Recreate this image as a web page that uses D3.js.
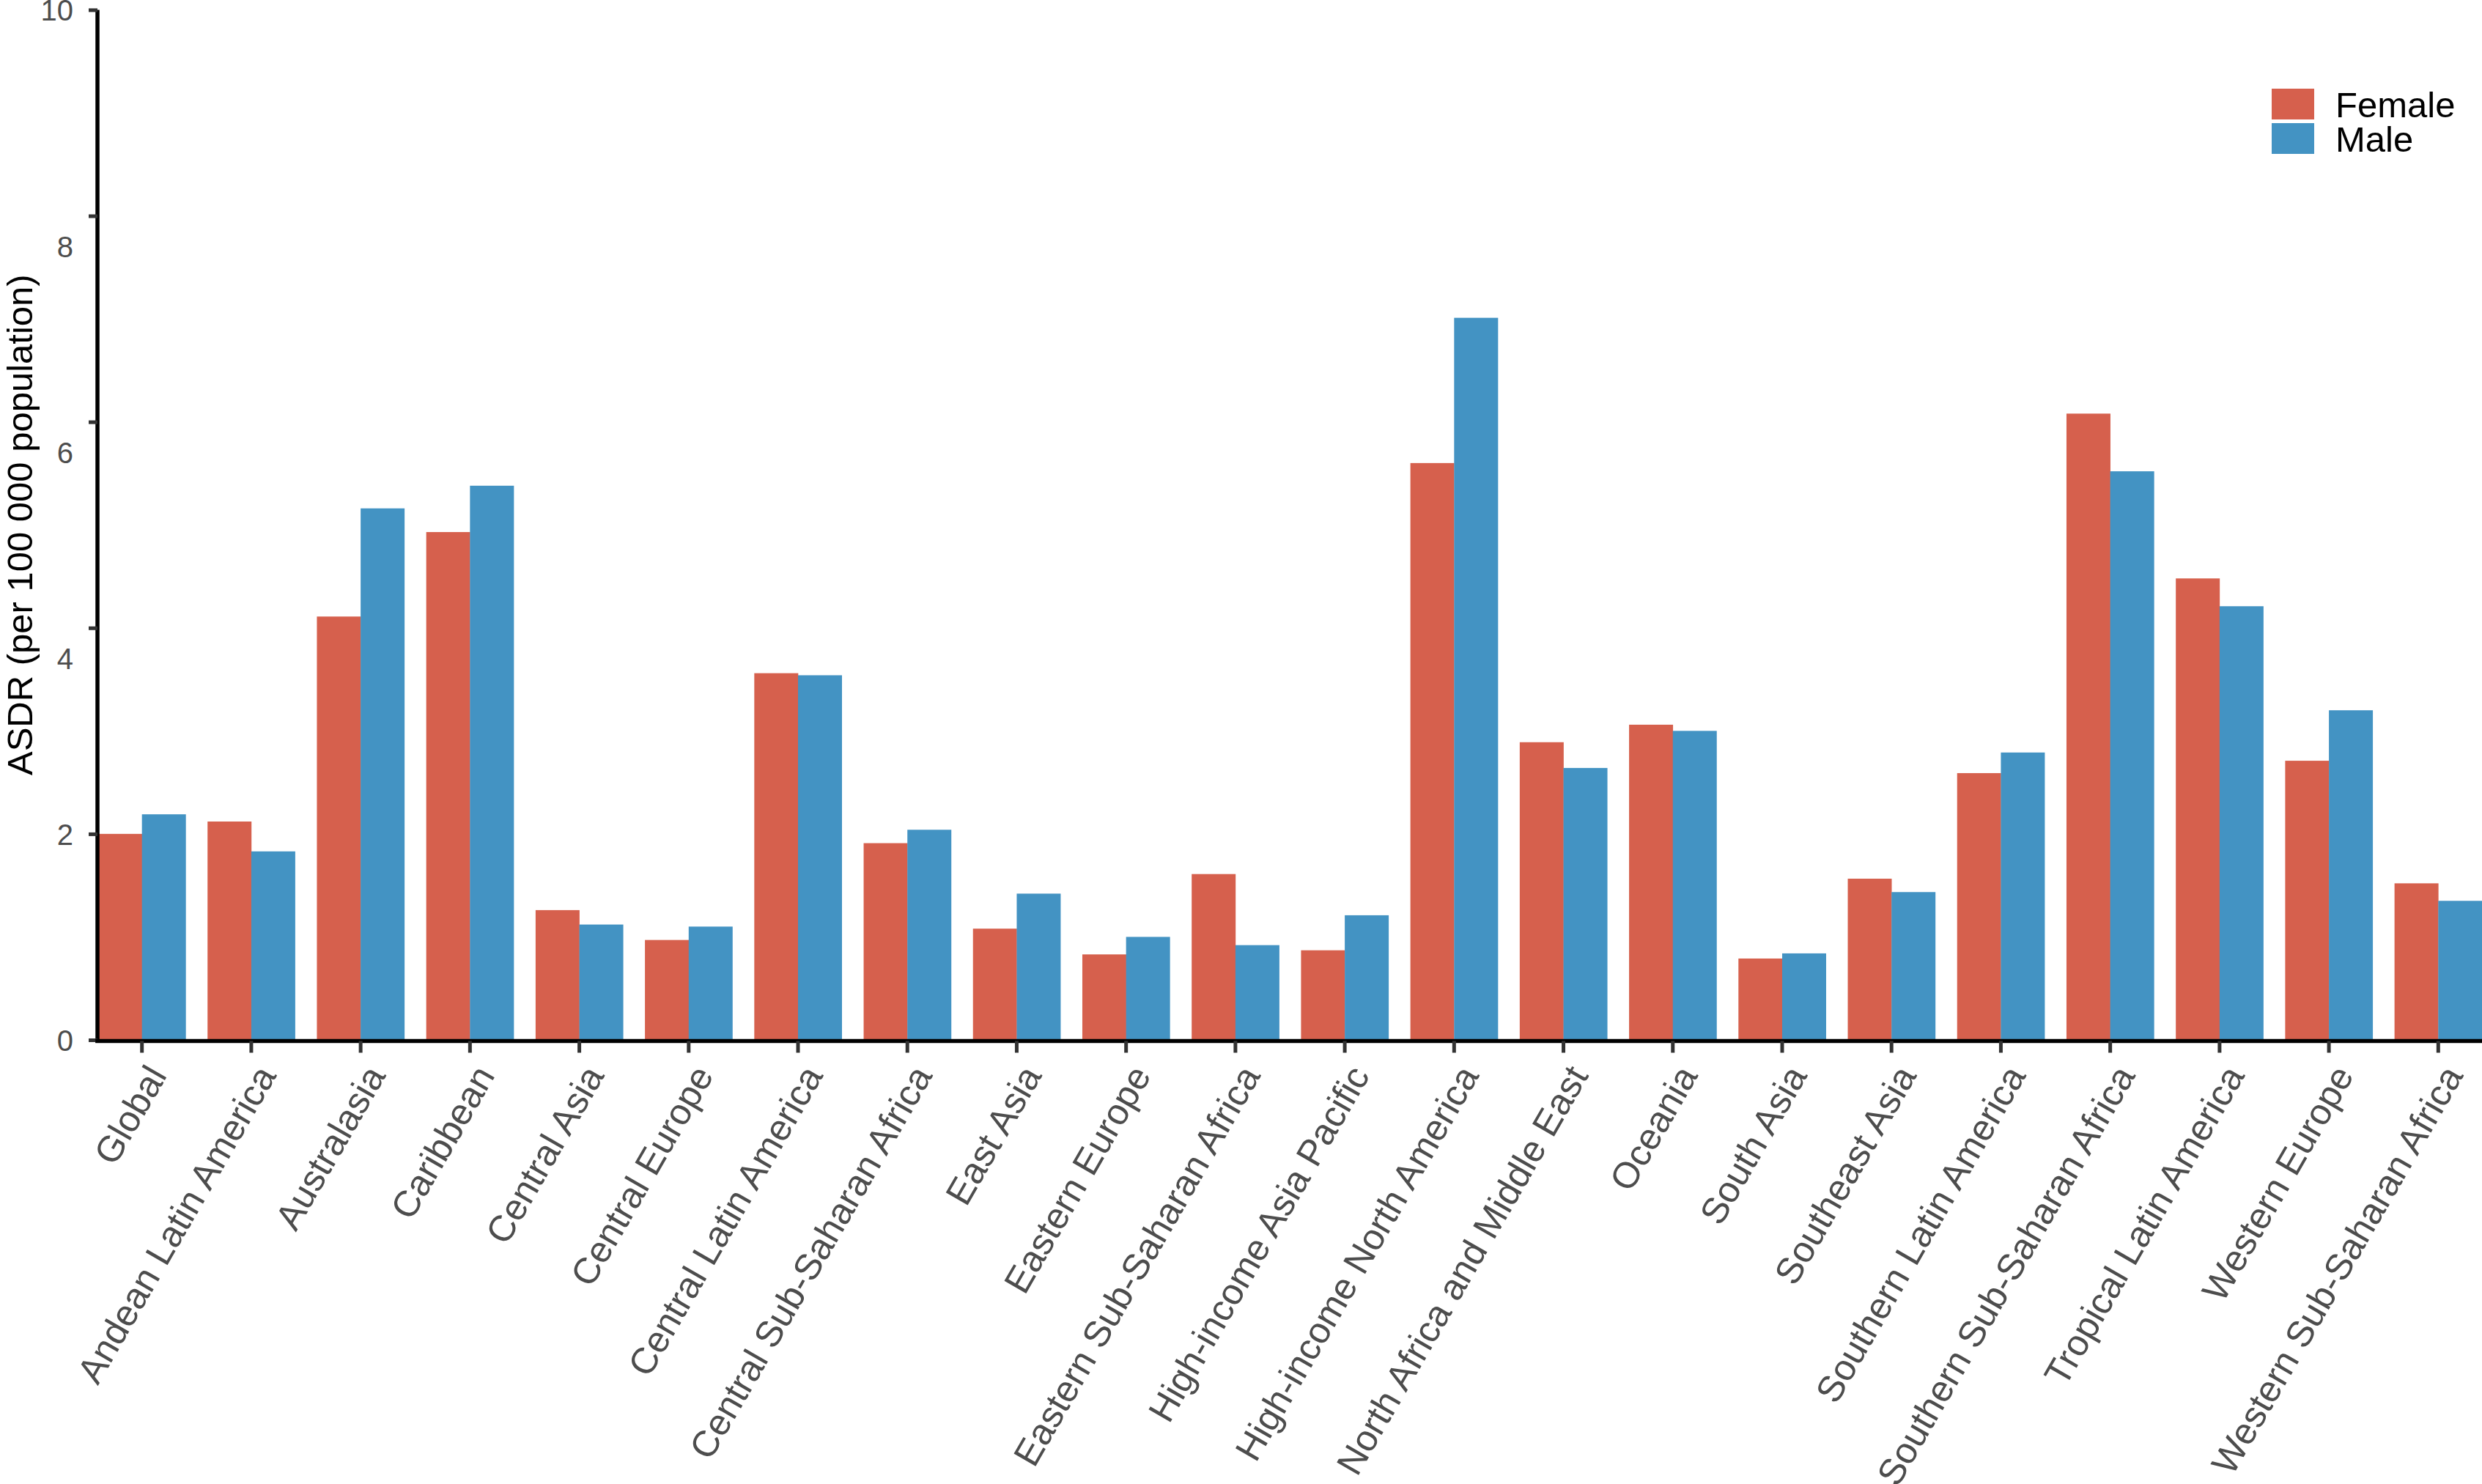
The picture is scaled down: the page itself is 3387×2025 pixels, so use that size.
<!DOCTYPE html>
<html>
<head>
<meta charset="utf-8">
<script src="https://cdn.jsdelivr.net/npm/d3@7"></script>
<style>
  html, body { margin: 0; padding: 0; background: #ffffff; }
  svg { display: block; }
  text { font-family: "Liberation Sans", Arial, Helvetica, sans-serif; }
</style>
</head>
<body>
<svg id="chart" width="3387" height="2025"></svg>
<script>
// ---- data ----
const regions = [
  "Global", "Andean Latin America", "Australasia", "Caribbean", "Central Asia",
  "Central Europe", "Central Latin America", "Central Sub-Saharan Africa", "East Asia",
  "Eastern Europe", "Eastern Sub-Saharan Africa", "High-income Asia Pacific",
  "High-income North America", "North Africa and Middle East", "Oceania", "South Asia",
  "Southeast Asia", "Southern Latin America", "Southern Sub-Saharan Africa",
  "Tropical Latin America", "Western Europe", "Western Sub-Saharan Africa"
];
const series = ["Female", "Male"];
const femaleValues = [2.00, 2.12, 4.11, 4.93, 1.26, 0.97, 3.56, 1.91, 1.08, 0.83, 1.61,
                      0.87, 5.60, 2.89, 3.06, 0.79, 1.565, 2.59, 6.08, 4.48, 2.71, 1.52];
const maleValues   = [2.19, 1.83, 5.16, 5.38, 1.12, 1.10, 3.54, 2.04, 1.42, 1.00, 0.92,
                      1.21, 7.01, 2.64, 3.00, 0.84, 1.435, 2.79, 5.52, 4.21, 3.20, 1.35];
const yTicks = [0, 2, 4, 6, 8, 10];
const yTitle = "ASDR (per 100 000 population)";
const seriesColors = ["#D6604D", "#4393C3"];

// ---- layout ----
const svg = d3.select("#chart");
const axisX = 133;        // y-axis line position
const plotRight = 3387;
const plotTop = 13.4;
const plotBottom = 1419;

const rows = regions.map((r, i) => ({ region: r, Female: femaleValues[i], Male: maleValues[i] }));

const x = d3.scaleBand().domain(regions).range([134, plotRight]).paddingInner(0.2).paddingOuter(0);
const xSub = d3.scaleBand().domain(series).range([0, x.bandwidth()]).padding(0);
const y = d3.scaleLinear().domain([0, 10]).range([plotBottom, plotTop]);
const color = d3.scaleOrdinal().domain(series).range(seriesColors);

// ---- bars ----
const groups = svg.append("g").selectAll("g")
  .data(rows).join("g")
  .attr("transform", d => `translate(${x(d.region)},0)`);
groups.selectAll("rect")
  .data(d => series.map(s => ({ key: s, value: d[s] })))
  .join("rect")
  .attr("x", d => xSub(d.key))
  .attr("width", xSub.bandwidth() + 0.3)
  .attr("y", d => y(d.value))
  .attr("height", d => y(0) - y(d.value))
  .attr("fill", d => color(d.key));

// ---- y axis ----
const yAxis = svg.append("g")
  .attr("transform", `translate(${axisX},0)`)
  .call(d3.axisLeft(y).tickValues(yTicks).tickSize(12).tickSizeOuter(0).tickPadding(21)
        .tickFormat(d3.format("d")));
yAxis.select(".domain").attr("stroke", "#000").attr("stroke-width", 5.5)
  .attr("d", `M0,${plotTop}V${plotBottom + 4}`);
yAxis.selectAll(".tick line").attr("stroke", "#333333").attr("stroke-width", 5);
yAxis.selectAll(".tick text")
  .attr("fill", "#4D4D4D")
  .style("font-size", "40px")
  .attr("dy", d => (d > 2 && d < 10) ? "1.40em" : "0.36em");

// ---- x axis ----
const xAxis = svg.append("g")
  .attr("transform", `translate(0,${plotBottom + 1.5})`)
  .call(d3.axisBottom(x).tickSize(16).tickSizeOuter(0));
xAxis.select(".domain").attr("stroke", "#000").attr("stroke-width", 5.5)
  .attr("d", `M${axisX - 2.75},0H${plotRight}`);
xAxis.selectAll(".tick line").attr("stroke", "#333333").attr("stroke-width", 5);
xAxis.selectAll(".tick text")
  .attr("fill", "#4D4D4D")
  .style("font-size", "50px")
  .attr("x", 0).attr("y", 0)
  .attr("dy", "0.72em")
  .attr("text-anchor", "end")
  .attr("transform", "translate(4,29) rotate(-60)");

// ---- y title ----
svg.append("text")
  .attr("transform", `translate(43.5,${(plotTop + plotBottom) / 2}) rotate(-90)`)
  .attr("text-anchor", "middle")
  .attr("fill", "#000")
  .style("font-size", "49px")
  .text(yTitle);

// ---- legend ----
const legend = svg.append("g").attr("transform", "translate(3100,121)");
const items = legend.selectAll("g").data(series).join("g")
  .attr("transform", (d, i) => `translate(0,${i * 47})`);
items.append("rect").attr("width", 58).attr("height", 42).attr("fill", d => color(d));
items.append("text")
  .attr("x", 87).attr("y", 21).attr("dy", "0.36em")
  .attr("fill", "#000")
  .style("font-size", "49px")
  .text(d => d);
</script>
</body>
</html>
